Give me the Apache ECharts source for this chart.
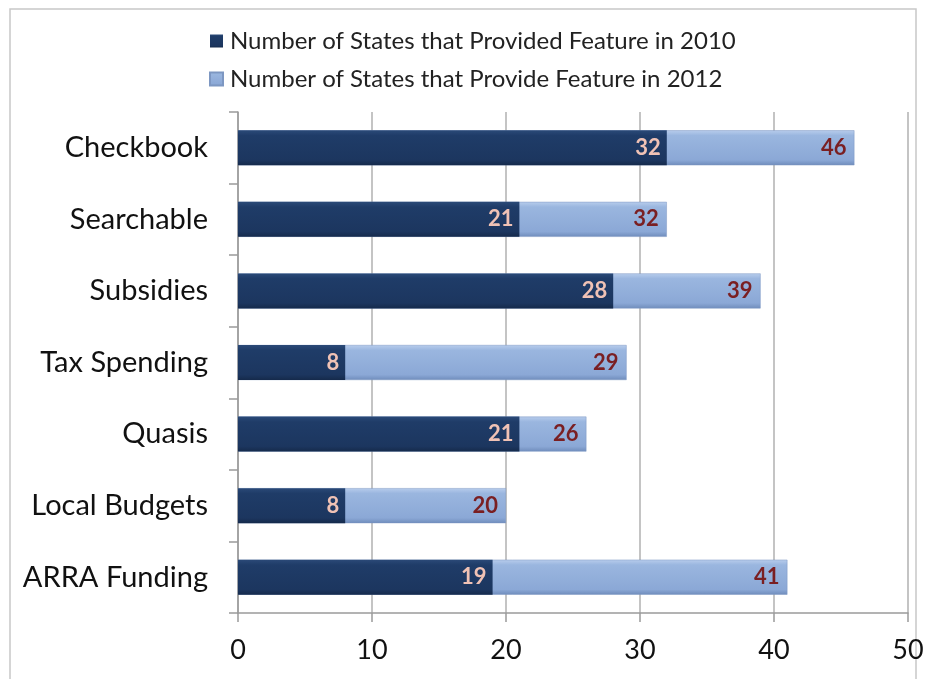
<!DOCTYPE html>
<html><head><meta charset="utf-8">
<script src="https://cdn.jsdelivr.net/npm/echarts@6/dist/echarts.min.js"></script>
<style>html,body{margin:0;padding:0;background:#fff}#c{width:927px;height:679px}</style>
</head><body><div id="c"></div>
<script>
const categories = ['Checkbook','Searchable','Subsidies','Tax Spending','Quasis','Local Budgets','ARRA Funding'];
const values2010 = [32,21,28,8,21,8,19];
const values2012 = [46,32,39,29,26,20,41];
const seriesNames = ['Number of States that Provided Feature in 2010','Number of States that Provide Feature in 2012'];
const xTicks = [0,10,20,30,40,50];

const font = 'Lato, "Open Sans", sans-serif';
const chart = echarts.init(document.getElementById('c'));
const darkGrad = new echarts.graphic.LinearGradient(0,0,0,1,[
  {offset:0,color:'#2b4a78'},{offset:0.15,color:'#1f3c68'},{offset:0.85,color:'#1c365f'},{offset:1,color:'#152a4b'}]);
const lightGrad = new echarts.graphic.LinearGradient(0,0,0,1,[
  {offset:0,color:'#b8cdec'},{offset:0.15,color:'#9ab6df'},{offset:0.85,color:'#8ba8d6'},{offset:1,color:'#6f8cbb'}]);
chart.setOption({
  animation:false,
  backgroundColor:'#fff',
  color:['#1f3c68','#9ab6df'],
  graphic:[{type:'rect',shape:{x:10,y:9,width:906,height:700},style:{fill:'none',stroke:'#c8c8c8',lineWidth:1.5},silent:true}],
  legend:{
    data:[seriesNames[0],seriesNames[1]],
    orient:'vertical', left:204, top:24, itemGap:14,
    itemWidth:13, itemHeight:13, icon:'rect',
    textStyle:{fontFamily:font,fontSize:24,color:'#222',padding:[0,0,0,2]}
  },
  grid:{left:238,right:19,top:112,bottom:66},
  xAxis:{
    type:'value', min:0, max:50, interval:10,
    axisLine:{show:true,lineStyle:{color:'#9a9a9a',width:1.5}},
    axisTick:{show:true,length:9,lineStyle:{color:'#9a9a9a',width:1.5}},
    splitLine:{show:true,lineStyle:{color:'#b0b0b0',width:1.5}},
    axisLabel:{fontFamily:font,fontSize:27,color:'#111',margin:24,
      formatter:v=>xTicks.includes(v)?String(v):''}
  },
  yAxis:{
    type:'category', data:categories, inverse:true,
    axisLine:{show:true,lineStyle:{color:'#9a9a9a',width:1.5}},
    axisTick:{show:true,length:9,lineStyle:{color:'#9a9a9a',width:1.5}},
    axisLabel:{fontFamily:font,fontSize:29,color:'#111',margin:30}
  },
  series:[
    {name:seriesNames[1],type:'bar',data:values2012,barWidth:35,barGap:'-100%',z:2,
      itemStyle:{color:lightGrad,borderColor:'#7d97c2',borderWidth:0.5},
      label:{show:true,position:'insideRight',fontFamily:font,fontWeight:'bold',fontSize:22,color:'#7a1f22',distance:8}},
    {name:seriesNames[0],type:'bar',data:values2010,barWidth:35,barGap:'-100%',z:3,
      itemStyle:{color:darkGrad},
      label:{show:true,position:'insideRight',fontFamily:font,fontWeight:'bold',fontSize:22,color:'#f0c2b5',distance:6}}
  ]
});
</script></body></html>
